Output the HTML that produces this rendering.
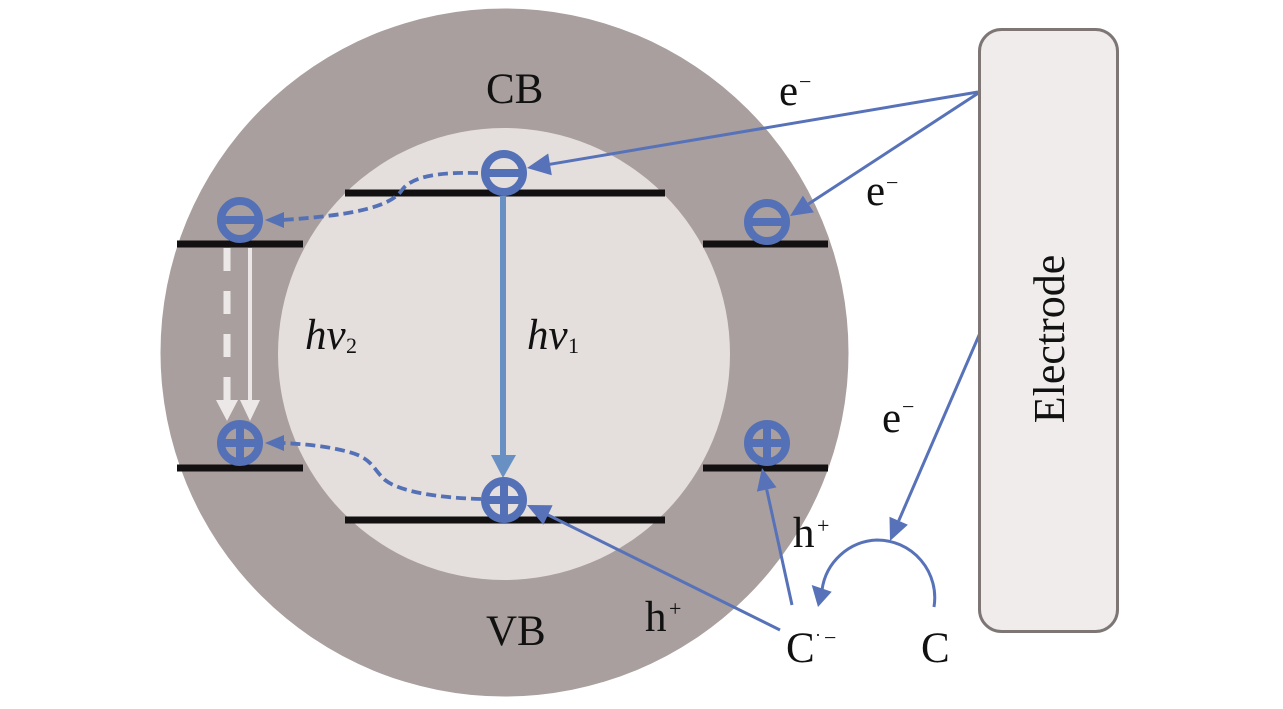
<!DOCTYPE html>
<html>
<head>
<meta charset="utf-8">
<style>
html,body{margin:0;padding:0;background:#fff;}
svg{display:block;}
text{font-family:"Liberation Serif","Times New Roman",serif;fill:#111;}
</style>
</head>
<body>
<svg width="1283" height="709" viewBox="0 0 1283 709" xmlns="http://www.w3.org/2000/svg">
  <rect x="0" y="0" width="1283" height="709" fill="#ffffff"/>
  <!-- outer and inner circles -->
  <circle cx="504.5" cy="352.5" r="344" fill="#a89f9e"/>
  <circle cx="504" cy="354" r="226" fill="#e4dedd"/>

  <!-- band lines -->
  <g stroke="#121010" stroke-width="7">
    <line x1="345" y1="193" x2="665" y2="193"/>
    <line x1="345" y1="520" x2="665" y2="520"/>
    <line x1="177" y1="244" x2="303" y2="244"/>
    <line x1="177" y1="468" x2="303" y2="468"/>
    <line x1="703" y1="244" x2="828" y2="244"/>
    <line x1="703" y1="468" x2="828" y2="468"/>
  </g>

  <!-- white arrows on left -->
  <line x1="227" y1="248" x2="227" y2="402" stroke="#ece8e7" stroke-width="7" stroke-dasharray="23 20"/>
  <polygon points="216,400 238,400 227,421" fill="#ece8e7"/>
  <line x1="250" y1="248" x2="250" y2="402" stroke="#ece8e7" stroke-width="4"/>
  <polygon points="240,400 260,400 250,421" fill="#ece8e7"/>

  <!-- hv1 arrow -->
  <line x1="503" y1="196" x2="503" y2="457" stroke="#6990c3" stroke-width="6"/>
  <polygon points="491,455 516,455 503,478" fill="#6990c3"/>

  <!-- dashed curves -->
  <g fill="none" stroke="#5571b6" stroke-width="3.8" stroke-dasharray="10 5">
    <path d="M 478 173 C 440 172, 412 176, 402 190 C 392 205, 360 215, 282 220"/>
    <path d="M 481 499 C 440 498, 400 492, 385 480 C 372 468, 372 457, 345 451 C 325 446, 305 444, 282 443"/>
  </g>
  <polygon points="265,220 284,212 284,228" fill="#5571b6"/>
  <polygon points="265,443 284,435 284,451" fill="#5571b6"/>

  <!-- solid blue arrows -->
  <g stroke="#5772b8" stroke-width="3" fill="none">
    <line x1="978" y1="92" x2="549.7" y2="164.3"/>
    <line x1="980" y1="92" x2="808.4" y2="204"/>
    <line x1="980" y1="333" x2="898.7" y2="520.8"/>
    <line x1="792" y1="605" x2="766.7" y2="489.5"/>
    <line x1="780" y1="630" x2="547.7" y2="514.8"/>
    <path d="M 934 607 A 57.7 57.7 0 0 0 877 540 A 57.7 57.7 0 0 0 822 590"/>
  </g>
  <g fill="#5772b8">
    <polygon points="527,168 551.8,175.2 548.2,153.5"/>
    <polygon points="790,216 813.9,212.4 802.9,195.6"/>
    <polygon points="890,541 907.9,524.8 889.5,516.8"/>
    <polygon points="762,468 756.9,491.6 776.5,487.4"/>
    <polygon points="527,505 543.3,524.8 552.6,505.3"/>
    <polygon points="818,607 811.7,585 831.7,591.7"/>
  </g>

  <!-- electron / hole symbols -->
  <g stroke="#5470b6" stroke-width="8" fill="none">
    <!-- minus -->
    <circle cx="504" cy="173" r="19"/>
    <line x1="486" y1="173" x2="522" y2="173"/>
    <circle cx="240" cy="220" r="19"/>
    <line x1="222" y1="220" x2="258" y2="220"/>
    <circle cx="767" cy="222" r="19"/>
    <line x1="749" y1="222" x2="785" y2="222"/>
    <!-- plus -->
    <circle cx="504" cy="500" r="19"/>
    <line x1="486" y1="500" x2="522" y2="500"/>
    <line x1="504" y1="482" x2="504" y2="518"/>
    <circle cx="240" cy="443" r="19"/>
    <line x1="222" y1="443" x2="258" y2="443"/>
    <line x1="240" y1="425" x2="240" y2="461"/>
    <circle cx="767" cy="443" r="19"/>
    <line x1="749" y1="443" x2="785" y2="443"/>
    <line x1="767" y1="425" x2="767" y2="461"/>
  </g>

  <!-- electrode -->
  <rect x="979.5" y="29.5" width="138" height="602" rx="22" ry="22" fill="#f0ecec" stroke="#7d7675" stroke-width="3"/>
  <text x="0" y="0" font-size="44" text-anchor="middle" transform="translate(1064,339) rotate(-90)">Electrode</text>

  <!-- labels -->
  <text x="486" y="103" font-size="43">CB</text>
  <text x="486" y="645" font-size="43">VB</text>

  <text x="305" y="349" font-size="43" font-style="italic">hv</text>
  <text x="346" y="353" font-size="22">2</text>
  <text x="527" y="349" font-size="43" font-style="italic">hv</text>
  <text x="568" y="353" font-size="22">1</text>

  <text x="779" y="105" font-size="43">e</text>
  <text x="799" y="89" font-size="22">−</text>
  <text x="866" y="205" font-size="43">e</text>
  <text x="886" y="190" font-size="22">−</text>
  <text x="882" y="432" font-size="43">e</text>
  <text x="902" y="414" font-size="22">−</text>

  <text x="793" y="547" font-size="43">h</text>
  <text x="817" y="533" font-size="22">+</text>
  <text x="645" y="631" font-size="43">h</text>
  <text x="669" y="616" font-size="22">+</text>

  <text x="786" y="662" font-size="43">C</text>
  <text x="815" y="641" font-size="18">·</text>
  <text x="824" y="645" font-size="22">−</text>
  <text x="921" y="662" font-size="43">C</text>
</svg>
</body>
</html>
